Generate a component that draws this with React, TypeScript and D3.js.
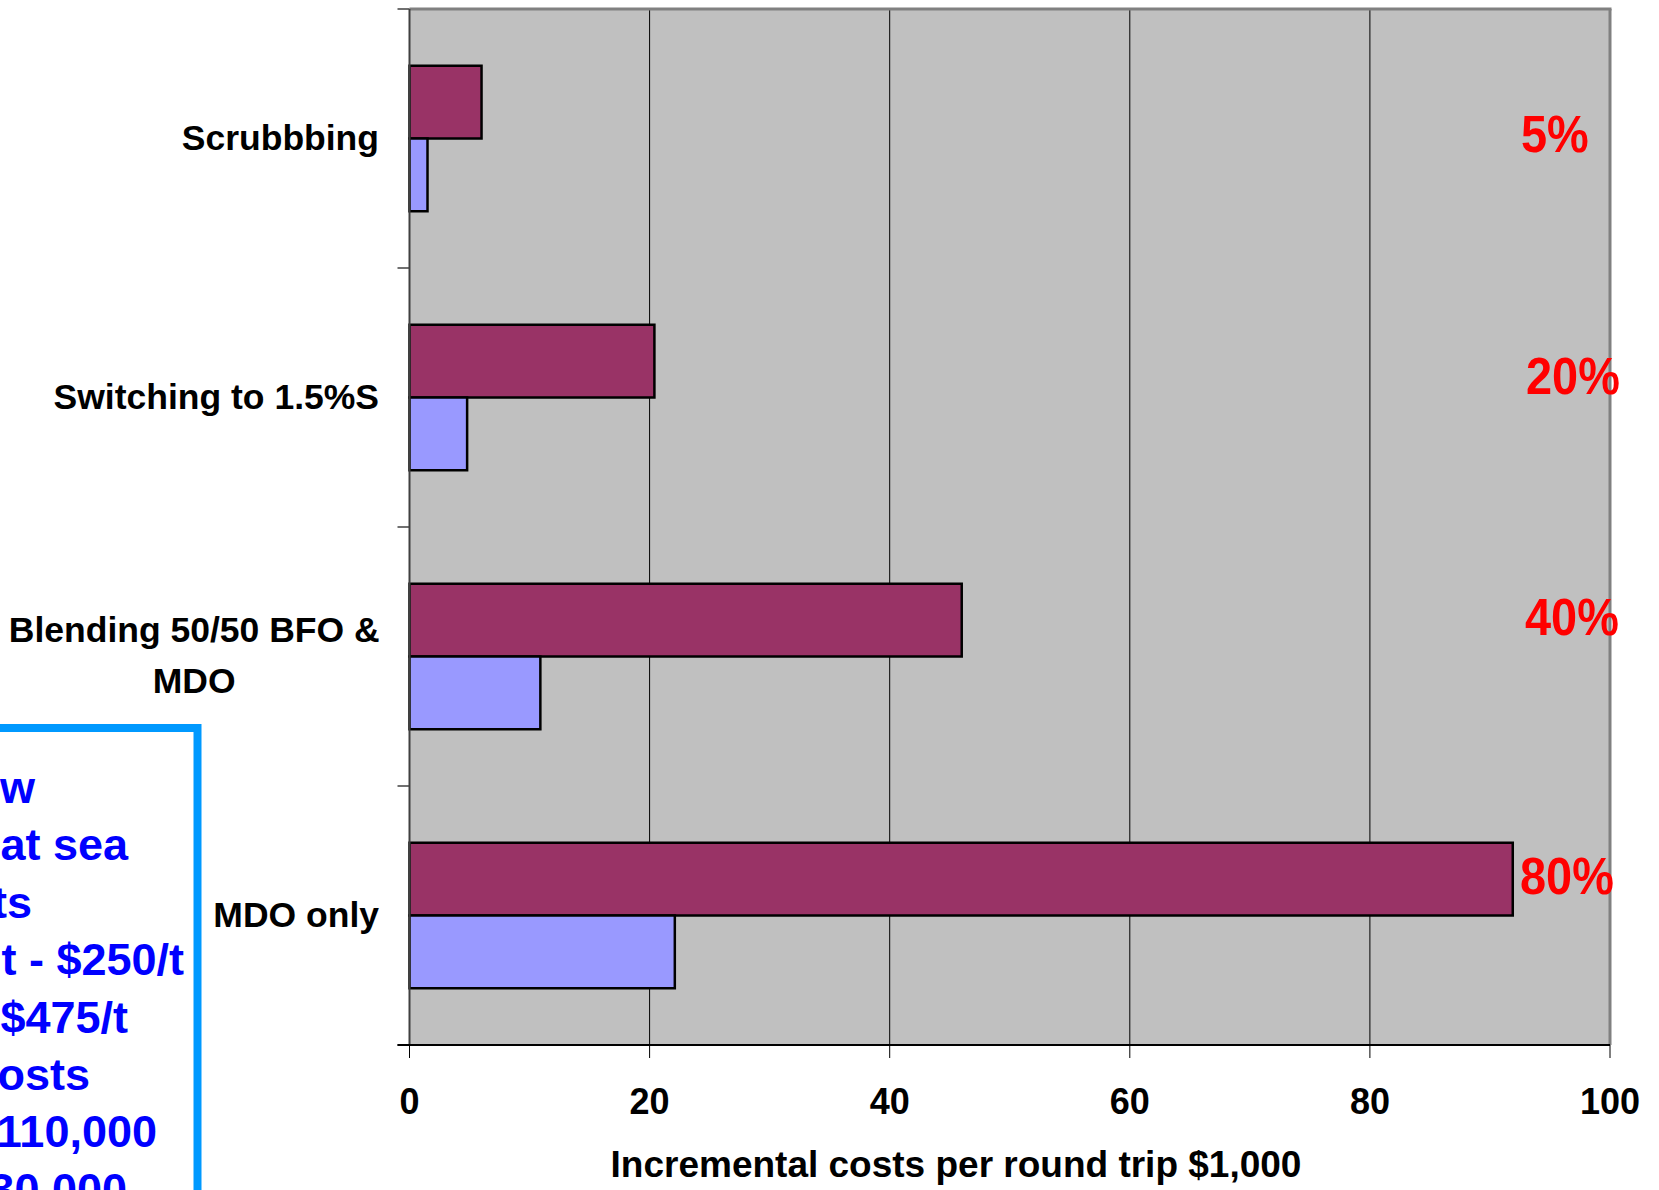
import React, { useEffect } from 'react';
import * as d3 from 'd3';

// ---- data ----
const categories = ['Scrubbbing', 'Switching to 1.5%S', 'Blending 50/50 BFO & MDO', 'MDO only'];
const categoryLines = [['Scrubbbing'], ['Switching to 1.5%S'], ['Blending 50/50 BFO &', 'MDO'], ['MDO only']];
const seriesNames = ['upper', 'lower'];
const upperCosts = [6.0, 20.4, 46.0, 91.9];
const lowerCosts = [1.5, 4.8, 10.9, 22.1];
const percentLabels = ['5%', '20%', '40%', '80%'];
const xTicks = [0, 20, 40, 60, 80, 100];
const xAxisTitle = 'Incremental costs per round trip $1,000';
const noteLines = ['w', 'at sea', 'ts', 't - $250/t', '$475/t', 'osts', '110,000', '30,000'];

// ---- layout / style ----
const W = 1659;
const H = 1190;
const plot = { left: 409.5, right: 1610, top: 9, bottom: 1045 };
const FONT = '"Liberation Sans", Arial, Helvetica, sans-serif';
const seriesColors = ['#993366', '#9999ff'];
const pctLayout = [
  { dx: -89, dy: 13.5 },
  { dx: -84, dy: -3.5 },
  { dx: -85, dy: -21.5 },
  { dx: -90, dy: -21.5 },
];
const noteLayout = { rightEdges: [35, 128, 32, 184, 128, 90, 157, 127], firstBaseline: 803, lineStep: 57.4 };

function measure(text: string, font: string): number {
  const c = document.createElement('canvas');
  const ctx = c.getContext('2d');
  if (!ctx) return text.length * 18;
  ctx.font = font;
  return ctx.measureText(text).width;
}

export default function App() {
  useEffect(() => {
    document.body.style.margin = '0';
    document.body.style.overflow = 'hidden';
  }, []);

  const x = d3.scaleLinear().domain([0, 100]).range([plot.left, plot.right]);
  const y = d3.scaleBand<string>().domain(categories).range([plot.top, plot.bottom]).padding(0);
  const ySeries = d3
    .scaleBand<string>()
    .domain(seriesNames)
    .range([0, y.bandwidth()])
    .paddingInner(0)
    .paddingOuter(0.78);

  const values = [upperCosts, lowerCosts];
  const labelRight = 379;
  const catFont = `bold 35px ${FONT}`;

  const boundaries = categories.map((c) => y(c) as number).concat([plot.bottom]);

  return (
    <svg
      width={W}
      height={H}
      style={{ position: 'absolute', left: 0, top: 0, background: '#ffffff' }}
      fontFamily={FONT}
    >
      <rect x={0} y={0} width={W} height={H} fill="#ffffff" />
      {/* plot background */}
      <rect x={plot.left} y={plot.top} width={plot.right - plot.left} height={plot.bottom - plot.top} fill="#c0c0c0" />
      {/* gridlines */}
      {xTicks.filter((t) => t > 0 && t < 100).map((t) => (
        <line key={'g' + t} x1={x(t)} x2={x(t)} y1={plot.top} y2={plot.bottom} stroke="#000" strokeWidth={1} />
      ))}
      {/* plot frame top/right */}
      <line x1={plot.left} x2={plot.right + 1.5} y1={plot.top} y2={plot.top} stroke="#808080" strokeWidth={3} />
      <line x1={plot.right} x2={plot.right} y1={plot.top} y2={plot.bottom} stroke="#808080" strokeWidth={3} />

      {/* bars */}
      {categories.map((c, i) => (
        <g key={c} transform={`translate(0,${y(c)})`}>
          {seriesNames.map((s, j) => (
            <rect
              key={s}
              x={x(0)}
              y={ySeries(s) as number}
              width={x(values[j][i]) - x(0)}
              height={ySeries.bandwidth()}
              fill={seriesColors[j]}
              stroke="#000"
              strokeWidth={2.5}
            />
          ))}
        </g>
      ))}

      {/* y axis */}
      <line x1={plot.left} x2={plot.left} y1={plot.top} y2={plot.bottom} stroke="#404040" strokeWidth={2} />
      {boundaries.map((b, i) => (
        <line key={'yt' + i} x1={plot.left - 12} x2={plot.left} y1={b} y2={b} stroke="#404040" strokeWidth={1.5} />
      ))}
      {/* x axis */}
      <line x1={plot.left - 12} x2={plot.right} y1={plot.bottom} y2={plot.bottom} stroke="#000" strokeWidth={2} />
      {xTicks.map((t) => (
        <g key={'xt' + t}>
          <line x1={x(t)} x2={x(t)} y1={plot.bottom} y2={plot.bottom + 13} stroke="#000" strokeWidth={1} />
          <text x={x(t)} y={plot.bottom + 69} textAnchor="middle" fontSize={36} fontWeight="bold" fill="#000">
            {t}
          </text>
        </g>
      ))}
      <text x={956} y={1177} textAnchor="middle" fontSize={37} fontWeight="bold" fill="#000">
        {xAxisTitle}
      </text>

      {/* category labels */}
      {categories.map((c, i) => {
        const lines = categoryLines[i];
        const center = (y(c) as number) + y.bandwidth() / 2;
        const step = 50.5;
        const firstBase = center + 11 - ((lines.length - 1) * step) / 2;
        if (lines.length === 1) {
          return (
            <text key={'cl' + c} x={labelRight} y={firstBase} textAnchor="end" fontSize={35.5} fontWeight="bold" fill="#000">
              {lines[0]}
            </text>
          );
        }
        const blockW = Math.max(...lines.map((l) => measure(l, catFont)));
        const cx = labelRight - 2 - blockW / 2;
        return (
          <g key={'cl' + c}>
            {lines.map((l, k) => (
              <text key={k} x={cx} y={firstBase + k * step} textAnchor="middle" fontSize={35.5} fontWeight="bold" fill="#000">
                {l}
              </text>
            ))}
          </g>
        );
      })}

      {/* percent annotations */}
      {categories.map((c, i) => {
        const center = (y(c) as number) + y.bandwidth() / 2;
        return (
          <text
            key={'p' + c}
            transform={`translate(${plot.right + pctLayout[i].dx},${center + pctLayout[i].dy}) scale(0.92,1)`}
            fontSize={51}
            fontWeight="bold"
            fill="#ff0000"
          >
            {percentLabels[i]}
          </text>
        );
      })}

      {/* note box (cut off at left/bottom, as in the reference) */}
      <rect x={-20} y={728} width={217.5} height={520} fill="#ffffff" stroke="#0099ff" strokeWidth={8} />
      {noteLines.map((l, i) => (
        <text
          key={'n' + i}
          x={noteLayout.rightEdges[i]}
          y={noteLayout.firstBaseline + i * noteLayout.lineStep}
          textAnchor="end"
          fontSize={45}
          fontWeight="bold"
          fill="#0000ff"
        >
          {l}
        </text>
      ))}
    </svg>
  );
}
